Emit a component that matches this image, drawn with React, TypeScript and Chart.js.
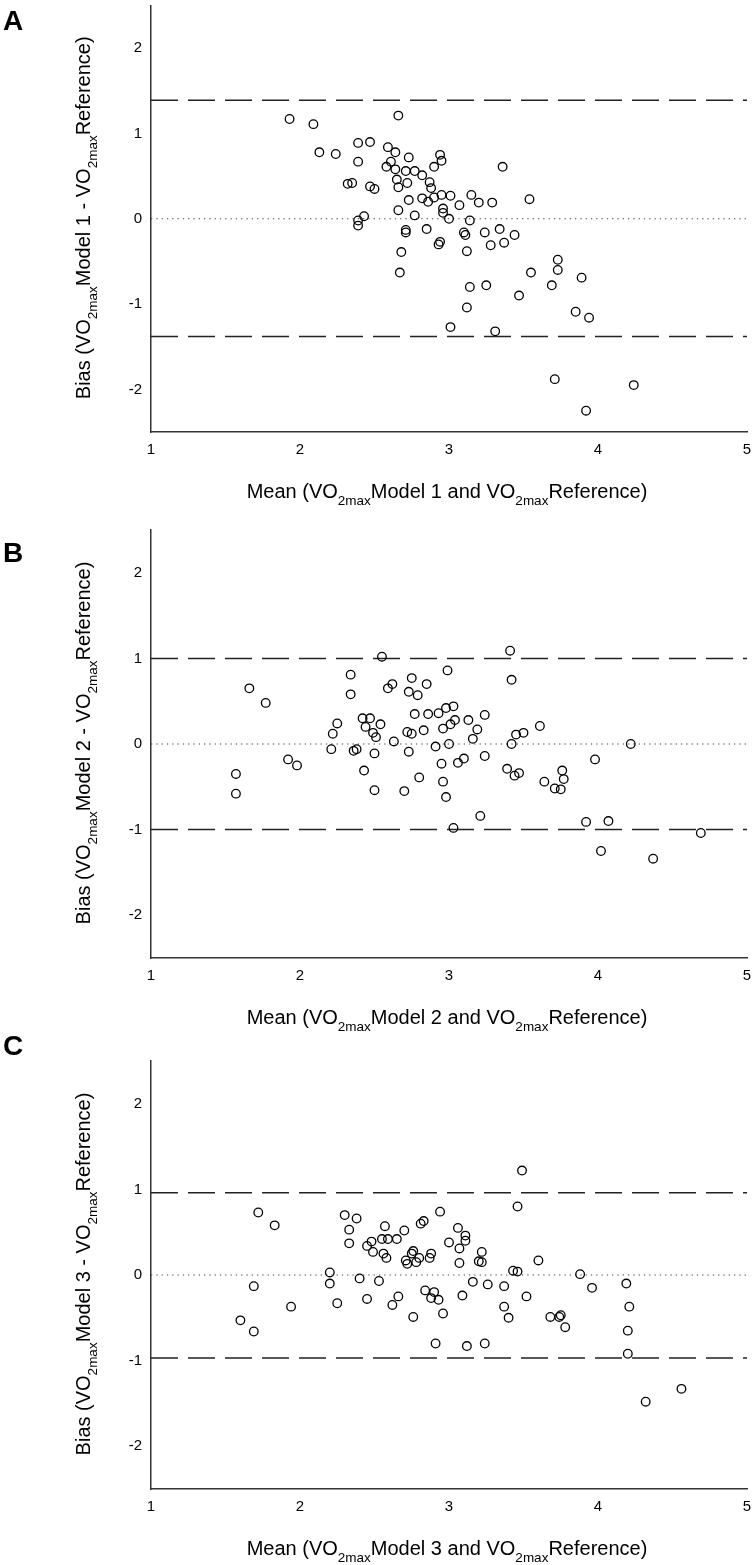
import React, { useEffect, useRef } from 'react';
import { Chart, registerables } from 'chart.js';

Chart.register(...registerables);

const FONT = '"Liberation Sans", Arial, Helvetica, sans-serif';

const xTickValues = [1, 2, 3, 4, 5];
const yTickValues = [-2, -1, 0, 1, 2];
const panelLetters = ['A', 'B', 'C'];
const modelNames = ['Model 1', 'Model 2', 'Model 3'];

// Model 1
const meanModel1 = [
  1.93, 2.09, 2.66, 2.39, 2.47, 2.13, 2.24, 2.39, 2.59, 2.64, 2.73, 2.61, 2.58, 2.64, 2.71, 2.77,
  2.82, 2.94, 2.95, 2.90, 3.36, 2.65, 2.72, 2.66, 2.32, 2.35, 2.47, 2.50, 2.87, 2.88, 2.73, 2.82,
  2.86, 2.90, 2.95, 3.01, 3.07, 3.15, 3.20, 3.29, 3.54, 2.66, 2.77, 2.96, 2.96, 3.00, 3.14, 2.43,
  2.39, 2.39, 2.71, 2.71, 2.85, 3.10, 3.11, 3.24, 3.34, 3.44, 2.93, 2.94, 3.28, 3.37, 2.68, 3.12,
  2.67, 3.55, 3.73, 3.73, 3.14, 3.25, 3.69, 3.47, 3.12, 3.01, 3.31, 3.89, 3.85, 3.94, 3.71, 4.24,
  3.92,
];
const biasModel1 = [
  1.17, 1.11, 1.21, 0.89, 0.90, 0.78, 0.76, 0.67, 0.84, 0.78, 0.72, 0.67, 0.61, 0.58, 0.56, 0.56,
  0.51, 0.75, 0.68, 0.61, 0.61, 0.46, 0.42, 0.37, 0.41, 0.42, 0.38, 0.35, 0.43, 0.36, 0.22, 0.24,
  0.20, 0.25, 0.28, 0.27, 0.16, 0.28, 0.19, 0.19, 0.23, 0.10, 0.04, 0.12, 0.07, 0.00, -0.02, 0.03,
  -0.02, -0.08, -0.13, -0.16, -0.12, -0.16, -0.19, -0.16, -0.12, -0.19, -0.30, -0.27, -0.31, -0.28, -0.39, -0.38,
  -0.63, -0.63, -0.48, -0.60, -0.80, -0.78, -0.78, -0.90, -1.04, -1.27, -1.32, -0.69, -1.09, -1.16, -1.88, -1.95,
  -2.25,
];

// Model 2
const meanModel2 = [
  2.55, 2.99, 2.34, 2.34, 1.66, 1.77, 2.59, 2.62, 2.75, 2.73, 2.79, 2.85, 2.42, 2.47, 2.44, 2.54,
  2.49, 2.51, 2.25, 2.22, 2.21, 2.36, 2.38, 2.50, 2.63, 2.72, 2.75, 2.77, 2.83, 2.86, 2.93, 2.98,
  2.96, 2.91, 2.73, 1.92, 1.98, 2.43, 2.80, 2.95, 2.96, 2.98, 1.57, 1.57, 2.50, 2.70, 3.41, 3.42,
  3.03, 3.04, 3.01, 3.13, 3.24, 3.19, 3.16, 3.00, 3.61, 3.45, 3.50, 3.42, 4.22, 3.06, 3.10, 3.24,
  3.39, 3.44, 3.47, 3.64, 3.71, 3.76, 3.77, 3.75, 3.98, 3.21, 3.03, 3.92, 4.07, 4.69, 4.02, 4.37,
];
const biasModel2 = [
  1.02, 0.86, 0.81, 0.58, 0.65, 0.48, 0.65, 0.70, 0.77, 0.61, 0.57, 0.70, 0.30, 0.30, 0.20, 0.23,
  0.13, 0.08, 0.24, 0.12, -0.06, -0.08, -0.06, -0.11, 0.03, 0.14, 0.12, 0.35, 0.16, 0.35, 0.36, 0.42,
  0.18, -0.03, -0.09, -0.18, -0.25, -0.31, -0.39, -0.23, -0.44, -0.62, -0.35, -0.58, -0.54, -0.55, 1.09, 0.75,
  0.44, 0.28, 0.23, 0.28, 0.34, 0.17, 0.06, 0.00, 0.21, 0.11, 0.13, 0.00, 0.00, -0.22, -0.17, -0.14,
  -0.29, -0.37, -0.34, -0.44, -0.52, -0.31, -0.41, -0.53, -0.18, -0.84, -0.98, -0.91, -0.90, -1.04, -1.25, -1.34,
];

// Model 3
const meanModel3 = [
  1.72, 1.83, 1.69, 1.94, 1.60, 1.69, 2.30, 2.38, 2.33, 2.33, 2.20, 2.20, 2.25, 2.40, 2.45, 2.53,
  2.45, 2.48, 2.49, 2.57, 2.55, 2.59, 2.65, 2.70, 2.56, 2.58, 2.66, 2.62, 2.76, 2.76, 2.75, 2.71,
  2.72, 2.78, 2.80, 2.81, 2.83, 2.87, 2.88, 2.94, 3.00, 2.84, 2.90, 2.88, 2.93, 2.96, 2.91, 3.49,
  3.46, 3.06, 3.11, 3.11, 3.07, 3.22, 3.20, 3.22, 3.07, 3.60, 3.43, 3.46, 3.88, 3.16, 3.26, 3.37,
  3.96, 4.19, 3.09, 3.52, 3.37, 3.40, 4.21, 3.68, 3.74, 3.75, 3.78, 4.20, 3.12, 3.24, 4.20, 4.56,
  4.32,
];
const biasModel3 = [
  0.73, 0.58, -0.13, -0.37, -0.53, -0.66, 0.70, 0.66, 0.53, 0.37, 0.03, -0.10, -0.33, -0.04, -0.28, -0.07,
  0.34, 0.39, 0.27, 0.57, 0.42, 0.42, 0.42, 0.52, 0.25, 0.20, -0.25, -0.35, -0.49, 0.28, 0.25, 0.17,
  0.13, 0.15, 0.20, 0.60, 0.63, 0.20, 0.25, 0.74, 0.38, -0.18, -0.20, -0.27, -0.29, -0.45, -0.80, 1.22,
  0.80, 0.55, 0.46, 0.40, 0.31, 0.27, 0.16, 0.15, 0.14, 0.17, 0.05, 0.04, 0.01, -0.08, -0.11, -0.13,
  -0.15, -0.10, -0.24, -0.25, -0.37, -0.50, -0.37, -0.49, -0.49, -0.47, -0.61, -0.65, -0.83, -0.80, -0.92, -1.33,
  -1.48,
];

// limits of agreement (upper, lower) and mean bias line
const upperLimits = [1.39, 1.0, 0.96];
const lowerLimits = [-1.38, -1.0, -0.97];
const meanBias = [0, 0, 0];

const means = [meanModel1, meanModel2, meanModel3];
const biases = [biasModel1, biasModel2, biasModel3];

// layout of the three stacked panels (canvas top, canvas height, plot top/bottom inside canvas, letter baseline)
const panelTops = [0, 520, 1030];
const panelHeights = [526, 530, 535];
const areaTops = [4, 10, 31];
const areaBottoms = [432, 438, 459];
const letterBaselines = [30, 41.5, 25];

type Seg = { t: string; sub?: boolean };

function drawRich(ctx: CanvasRenderingContext2D, segs: Seg[], size: number, subSize: number, subDrop: number) {
  let total = 0;
  const widths: number[] = [];
  segs.forEach((s) => {
    ctx.font = `${s.sub ? subSize : size}px ${FONT}`;
    const w = ctx.measureText(s.t).width;
    widths.push(w);
    total += w;
  });
  let x = -total / 2;
  ctx.textAlign = 'left';
  ctx.textBaseline = 'alphabetic';
  segs.forEach((s, i) => {
    ctx.font = `${s.sub ? subSize : size}px ${FONT}`;
    ctx.fillText(s.t, x, s.sub ? subDrop : 0);
    x += widths[i];
  });
}

function makeTitlePlugin(idx: number) {
  const model = modelNames[idx];
  const xSegs: Seg[] = [
    { t: 'Mean (VO' }, { t: '2max', sub: true }, { t: `${model} and VO` }, { t: '2max', sub: true }, { t: 'Reference)' },
  ];
  const ySegs: Seg[] = [
    { t: 'Bias (VO' }, { t: '2max', sub: true }, { t: `${model} - VO` }, { t: '2max', sub: true }, { t: 'Reference)' },
  ];
  return {
    id: 'titles' + idx,
    afterDraw(chart: any) {
      const ctx = chart.ctx as CanvasRenderingContext2D;
      const a = chart.chartArea;
      ctx.save();
      ctx.fillStyle = '#000';
      ctx.translate((a.left + a.right) / 2 - 2, a.bottom + 66);
      drawRich(ctx, xSegs, 20, 13.5, 7);
      ctx.restore();

      ctx.save();
      ctx.fillStyle = '#000';
      ctx.translate(90, (a.top + a.bottom) / 2 - 1);
      ctx.rotate(-Math.PI / 2);
      drawRich(ctx, ySegs, 20, 13.5, 7);
      ctx.restore();

      ctx.save();
      ctx.fillStyle = '#000';
      ctx.font = `bold 28px ${FONT}`;
      ctx.textAlign = 'left';
      ctx.textBaseline = 'alphabetic';
      ctx.fillText(panelLetters[idx], 3, letterBaselines[idx]);
      ctx.restore();
    },
  };
}

function Panel({ idx }: { idx: number }) {
  const ref = useRef<HTMLCanvasElement | null>(null);
  const H = panelHeights[idx];
  useEffect(() => {
    if (!ref.current) return;
    const pts = means[idx].map((m, i) => ({ x: m, y: biases[idx][i] }));
    const line = (v: number) => [{ x: xTickValues[0], y: v }, { x: xTickValues[xTickValues.length - 1], y: v }];
    const chart = new Chart(ref.current, {
      type: 'scatter',
      data: {
        datasets: [
          {
            data: pts,
            pointRadius: 4.3,
            pointBorderWidth: 1.3,
            borderColor: '#000',
            backgroundColor: 'rgba(0,0,0,0)',
            pointStyle: 'circle',
          } as any,
          {
            data: line(upperLimits[idx]),
            showLine: true,
            borderColor: '#222',
            borderWidth: 1.5,
            borderDash: [27, 10],
            pointRadius: 0,
          } as any,
          {
            data: line(lowerLimits[idx]),
            showLine: true,
            borderColor: '#222',
            borderWidth: 1.5,
            borderDash: [27, 10],
            pointRadius: 0,
          } as any,
          {
            data: line(meanBias[idx]),
            showLine: true,
            borderColor: '#444',
            borderWidth: 1.1,
            borderDash: [1.3, 4],
            pointRadius: 0,
          } as any,
        ],
      },
      options: {
        animation: false,
        responsive: false,
        maintainAspectRatio: false,
        devicePixelRatio: 1,
        layout: { padding: { top: areaTops[idx], right: 8, left: 0, bottom: 0 } },
        plugins: { legend: { display: false }, tooltip: { enabled: false } },
        scales: {
          x: {
            type: 'linear',
            min: 1,
            max: 5,
            grid: { display: false, drawTicks: false },
            border: { display: true, color: '#333', width: 1.5 },
            ticks: { font: { family: FONT, size: 15 }, color: '#000', padding: 9 },
            afterBuildTicks: (s: any) => {
              s.ticks = xTickValues.map((v) => ({ value: v }));
            },
            afterFit: (s: any) => {
              s.height = H - areaBottoms[idx];
              s.paddingLeft = 0;
              s.paddingRight = 0;
            },
          },
          y: {
            type: 'linear',
            min: -2.5,
            max: 2.5,
            grid: { display: false, drawTicks: false },
            border: { display: true, color: '#333', width: 1.5 },
            ticks: { font: { family: FONT, size: 15 }, color: '#000', padding: 9 },
            afterBuildTicks: (s: any) => {
              s.ticks = yTickValues.map((v) => ({ value: v }));
            },
            afterFit: (s: any) => {
              s.width = 151;
              s.paddingTop = 0;
              s.paddingBottom = 0;
            },
          },
        },
      } as any,
      plugins: [makeTitlePlugin(idx)],
    });
    return () => chart.destroy();
  }, [idx, H]);
  return (
    <canvas
      ref={ref}
      width={755}
      height={H}
      style={{ position: 'absolute', left: 0, top: panelTops[idx], width: 755, height: H }}
    />
  );
}

export default function App() {
  return (
    <div style={{ position: 'absolute', left: 0, top: 0, width: 755, height: 1565, overflow: 'hidden', background: '#fff' }}>
      <Panel idx={0} />
      <Panel idx={1} />
      <Panel idx={2} />
    </div>
  );
}
